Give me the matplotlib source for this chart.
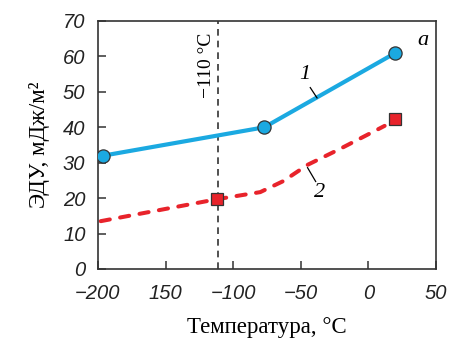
import matplotlib
matplotlib.use("Agg")
import matplotlib.pyplot as plt

# ── Data ──────────────────────────────────────────────────────────────────────
t1 = [-196, -77, 20]
e1 = [32, 40, 61]

t2_curve = [-198, -112, -80, -63, -45, -21, 12]
e2_curve = [13.5, 19.7, 21.7, 24.8, 29.4, 33.9, 40.4]
t2_pts = [-112, 20]
e2_pts = [19.7, 42.3]

t_mark = -111
xticks = [-200, -150, -100, -50, 0, 50]
xticklabels = ["\u2212200", "150", "\u2212100", "\u221250", "0", "50"]
yticks = [0, 10, 20, 30, 40, 50, 60, 70]

BLUE = "#1ba9e1"
RED = "#e8232b"
DARK = "#333333"
SERIF = ["Liberation Serif", "DejaVu Serif"]

fig = plt.figure(figsize=(4.49, 3.43), dpi=100)
ax = fig.add_axes([98 / 449, 1 - 269 / 343, 338 / 449, 248 / 343])

ax.axvline(t_mark, color=DARK, linestyle=(0, (4, 3)), linewidth=1.2, zorder=1)

ax.plot(t1, e1, color=BLUE, linewidth=3.0, zorder=2)
ax.plot(t1, e1, "o", color=BLUE, markeredgecolor=DARK, markeredgewidth=0.9,
        markersize=9.5, zorder=4)

ax.plot(t2_curve, e2_curve, color=RED, linewidth=2.9, linestyle=(0, (2.3, 2.6)),
        dash_capstyle="round", zorder=2)
ax.plot(t2_pts, e2_pts, "s", color=RED, markeredgecolor=DARK, markeredgewidth=0.9,
        markersize=9, zorder=4)

ax.set_xlim(-200, 50)
ax.set_ylim(0, 70)
ax.set_xticks(xticks)
ax.set_xticklabels(xticklabels)
ax.set_yticks(yticks)
ax.tick_params(direction="in", length=6, width=1.1, color=DARK,
               labelsize=14.5, labelcolor="#222222")
ax.tick_params(axis="x", pad=11)
ax.tick_params(axis="y", pad=9)
for lab in ax.get_xticklabels() + ax.get_yticklabels():
    lab.set_fontstyle("italic")
    lab.set_family(["Liberation Sans", "DejaVu Sans"])
for s in ax.spines.values():
    s.set_color(DARK)
    s.set_linewidth(1.2)

ax.set_xlabel("Температура, °C", family=SERIF, fontsize=16.5, labelpad=10)
ax.set_ylabel("ЭДУ, мДж/м²", family=SERIF, fontsize=16.5, labelpad=9)

# annotations
ax.text(-119.5, 57.6, "\u2212110 °C", rotation=90, family=SERIF, fontsize=14,
        ha="center", va="center")
ax.text(40, 64.5, "a", family=SERIF, style="italic", fontsize=16, ha="center", va="center")
ax.text(-47, 54.8, "1", family=SERIF, style="italic", fontsize=16, ha="center", va="center")
ax.plot([-43, -38], [51.2, 48.3], color="black", linewidth=0.9)
ax.text(-36, 21.5, "2", family=SERIF, style="italic", fontsize=16, ha="center", va="center")
ax.plot([-45, -39], [28.6, 24.7], color="black", linewidth=0.9)

fig.savefig("out.png", dpi=100)
